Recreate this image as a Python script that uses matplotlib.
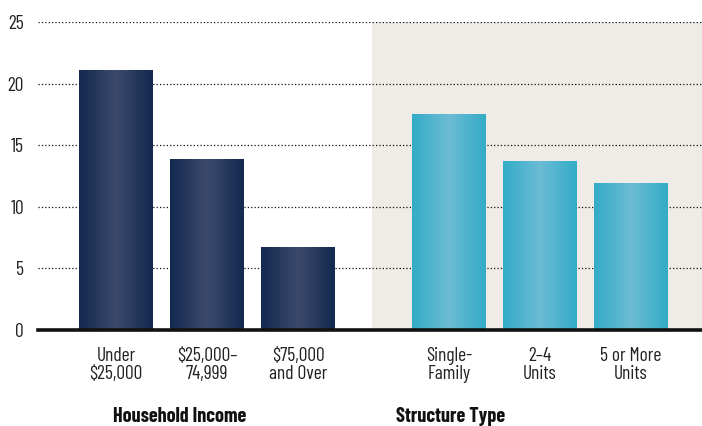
import numpy as np
import matplotlib
matplotlib.use("Agg")
import matplotlib.pyplot as plt
from matplotlib import font_manager
from matplotlib.colors import LinearSegmentedColormap

# data
income_labels = ["Under\n$25,000", "$25,000–\n74,999", "$75,000\nand Over"]
income_values = [21.1, 13.9, 6.7]
structure_labels = ["Single-\nFamily", "2–4\nUnits", "5 or More\nUnits"]
structure_values = [17.5, 13.7, 11.9]
group_titles = ["Household Income", "Structure Type"]
y_ticks = [0, 5, 10, 15, 20, 25]

# narrow font, close to the condensed face of the original
names = {f.name for f in font_manager.fontManager.ttflist}
narrow = [n for n in ["Barlow Condensed", "Roboto Condensed", "Liberation Sans Narrow"] if n in names]
plt.rcParams["font.family"] = narrow + ["DejaVu Sans"]

navy = LinearSegmentedColormap.from_list("navy", ["#13294f", "#3b4a6b", "#13294f"])
teal = LinearSegmentedColormap.from_list("teal", ["#33abc7", "#6cbcd4", "#33abc7"])

fig = plt.figure(figsize=(7.02, 4.26), dpi=100)
ax = fig.add_axes([38 / 702, 96 / 426, 664 / 702, 308 / 426])

x_income = np.arange(3)
x_struct = np.arange(3) + 3.66
width = 0.81

# shaded background behind structure type group
ax.axvspan(2.81, 6.5, color="#efebe6", zorder=0, lw=0)

for xs, vals, cmap in [(x_income, income_values, navy), (x_struct, structure_values, teal)]:
    bars = ax.bar(xs, vals, width=width, color="none", zorder=3)
    grad = np.linspace(0, 1, 256).reshape(1, -1)
    for b in bars:
        x0, y0 = b.get_x(), b.get_y()
        im = ax.imshow(grad, cmap=cmap, aspect="auto", zorder=3,
                       extent=[x0, x0 + b.get_width(), y0, y0 + b.get_height()])
        im.set_clip_path(b)

ax.set_xlim(-0.857, 6.44)
ax.set_ylim(0, 25)
ax.set_yticks(y_ticks)
ax.yaxis.grid(True, linestyle=(0, (1, 1.7)), color="#111111", linewidth=0.9, zorder=1)
ax.set_axisbelow(True)

for s in ["top", "right", "left"]:
    ax.spines[s].set_visible(False)
ax.spines["bottom"].set_linewidth(2.6)
ax.spines["bottom"].set_color("#111111")
ax.spines["bottom"].set_zorder(5)

ax.set_xticks(list(x_income) + list(x_struct))
ax.set_xticklabels(income_labels + structure_labels, fontsize=14, color="#222222", linespacing=1.05)
ax.tick_params(axis="x", length=0, pad=12)
ax.tick_params(axis="y", length=0, pad=10, labelsize=14, labelcolor="#222222")

for xc, title in zip([0.70, 3.68], group_titles):
    ax.text(xc, -0.299, title, transform=ax.get_xaxis_transform(),
            ha="center", va="baseline", fontsize=14.5, fontweight="bold", color="#111111")

fig.savefig("out.png", dpi=100)
